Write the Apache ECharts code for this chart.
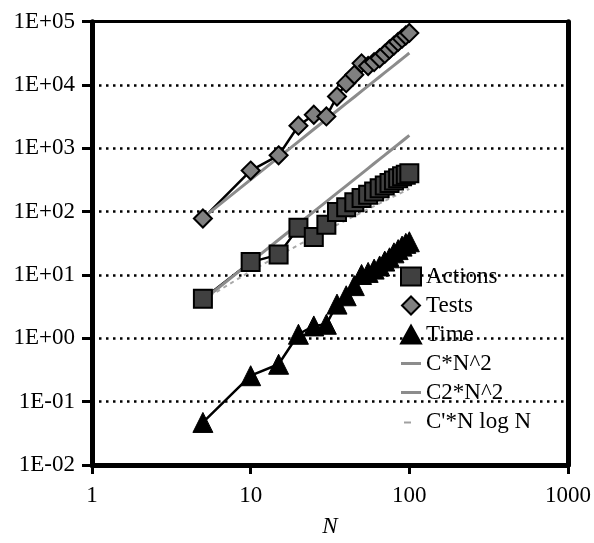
<!DOCTYPE html>
<html><head><meta charset="utf-8">
<script src="https://cdn.jsdelivr.net/npm/echarts@6/dist/echarts.min.js"></script>
<style>html,body{margin:0;padding:0;background:#fff}#c{width:594px;height:543px}</style>
</head><body><div id="c"></div>
<script>
const nValues = [5,10,15,20,25,30,35,40,45,50,55,60,65,70,75,80,85,90,95,100];
const actions = [4.2,16,21,56,40,62,99,117,141,164,185,208,234,258,284,310,337,363,384,405];
const tests = [78,446,776,2280,3390,3190,6590,10700,14500,22000,20000,23000,26500,31000,36500,42000,48000,54000,60500,66500];
const timeVals = [0.047,0.257,0.39,1.16,1.57,1.67,3.47,4.7,6.8,10.2,11,12.4,13.9,16.6,18.7,22.4,25.2,28.6,31.6,33.5];
const cN2 = [80,320,720,1280,2000,2880,3920,5120,6480,8000,9680,11520,13520,15680,18000,20480,23120,25920,28880,32000];
const c2N2 = [4,16,36,64,100,144,196,256,324,400,484,576,676,784,900,1024,1156,1296,1444,1600];
const cNlogN = [4.0,11.5,20.2,29.8,40.0,50.8,61.9,73.4,85.3,97.4,109.7,122.3,135.0,148.0,161.2,174.5,188.0,201.6,215.3,229.2];
const xTickLabels = ['1','10','100','1000'];
const yTickLabels = ['1E-02','1E-01','1E+00','1E+01','1E+02','1E+03','1E+04','1E+05'];

const FONT = 'Liberation Serif';
const pairs = arr => nValues.map((n,i)=>[n,arr[i]]);
const chart = echarts.init(document.getElementById('c'));
chart.setOption({
  animation:false,
  backgroundColor:'#fff',
  grid:{left:92,right:23.5,top:21.7,bottom:76.8,containLabel:false},
  legend:{
    orient:'vertical', left:395, top:260, itemWidth:20, itemHeight:18, itemGap:6,
    textStyle:{fontFamily:FONT,fontSize:23,color:'#000'},
    data:[
      {name:'Actions',icon:'rect'},
      {name:'Tests',icon:'path://M0,8L8,0L16,8L8,16Z'},
      {name:'Time',icon:'triangle'},
      {name:'C*N^2',icon:'path://M0,0H20V3H0Z'},
      {name:'C2*N^2',icon:'path://M0,0H20V3H0Z'},
      {name:"C'*N log N",icon:'path://M0,0M20,18M3,9H10V11H3Z'}
    ]
  },
  xAxis:[{
    type:'log', logBase:10, min:1, max:1000, position:'bottom',
    name:'N', nameLocation:'middle', nameGap:50,
    nameTextStyle:{fontFamily:FONT,fontSize:23,fontStyle:'italic',color:'#000'},
    axisLine:{show:true,lineStyle:{color:'#000',width:5}},
    axisTick:{show:true,inside:false,length:9,lineStyle:{color:'#000',width:3}},
    axisLabel:{margin:19,fontFamily:FONT,fontSize:23,color:'#000',
      formatter:v=>xTickLabels[Math.round(Math.log10(v))]},
    splitLine:{show:false}, minorTick:{show:false}
  },{
    type:'value', position:'top', min:0, max:1,
    axisLine:{show:true,lineStyle:{color:'#000',width:3}},
    axisTick:{show:false}, axisLabel:{show:false}, splitLine:{show:false}
  }],
  yAxis:[{
    type:'log', logBase:10, min:0.01, max:100000, splitNumber:7,
    axisLine:{show:true,lineStyle:{color:'#000',width:5}},
    axisTick:{show:true,inside:false,length:10,lineStyle:{color:'#000',width:3}},
    axisLabel:{margin:17,fontFamily:FONT,fontSize:23,color:'#000',
      formatter:v=>yTickLabels[Math.round(Math.log10(v))+2]},
    splitLine:{show:true,lineStyle:{color:'#000',width:2.5,type:[2.5,4.5]}},
    minorTick:{show:false}
  },{
    type:'value', position:'right', min:0, max:1,
    axisLine:{show:true,lineStyle:{color:'#000',width:5}},
    axisTick:{show:false}, axisLabel:{show:false}, splitLine:{show:false}
  }],
  series:[
    {name:'Actions',type:'line',data:pairs(actions),symbol:'rect',symbolSize:18,
     itemStyle:{color:'#404040',borderColor:'#000',borderWidth:2},
     lineStyle:{color:'#000',width:2.5}},
    {name:'Tests',type:'line',data:pairs(tests),symbol:'diamond',symbolSize:18,
     itemStyle:{color:'#808080',borderColor:'#000',borderWidth:2},
     lineStyle:{color:'#000',width:2.5}},
    {name:'Time',type:'line',data:pairs(timeVals),symbol:'triangle',symbolSize:20,
     itemStyle:{color:'#000',borderColor:'#000',borderWidth:1},
     lineStyle:{color:'#000',width:2.5}},
    {name:'C*N^2',type:'line',data:pairs(cN2),showSymbol:false,symbol:'none',
     itemStyle:{color:'#8c8c8c'},lineStyle:{color:'#8c8c8c',width:3}},
    {name:'C2*N^2',type:'line',data:pairs(c2N2),showSymbol:false,symbol:'none',
     itemStyle:{color:'#8c8c8c'},lineStyle:{color:'#8c8c8c',width:3}},
    {name:"C'*N log N",type:'line',data:pairs(cNlogN),showSymbol:false,symbol:'none',
     itemStyle:{color:'#a0a0a0'},lineStyle:{color:'#a8a8a8',width:2,type:[4,4]}}
  ]
});
</script></body></html>
